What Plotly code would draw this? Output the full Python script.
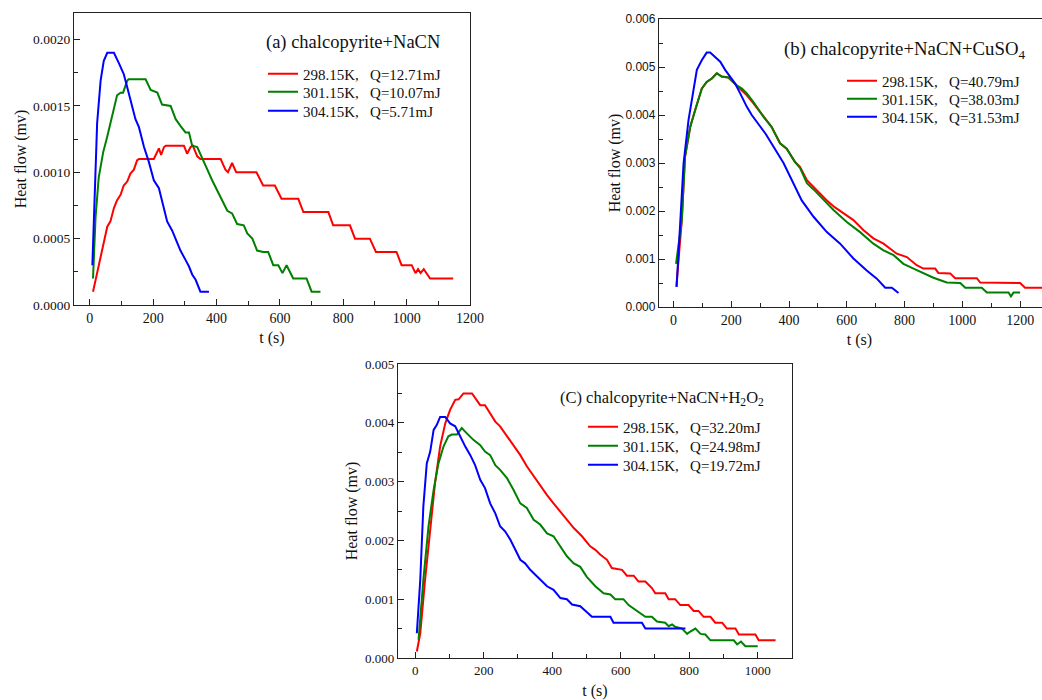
import plotly.graph_objects as go

# ---------------- data ----------------
temps = ["298.15K", "301.15K", "304.15K"]
q_a = ["12.71", "10.07", "5.71"]
q_b = ["40.79", "38.03", "31.53"]
q_c = ["32.20", "24.98", "19.72"]
colors = ["#ff0000", "#008000", "#0000ff"]

# panel (a) chalcopyrite+NaCN
a_red_t = [10, 55, 65, 76, 86, 97, 107, 118, 128, 139, 149, 155, 202, 213, 218, 225, 234, 240, 297, 307, 318, 325,
           339, 349, 413, 428, 436, 449, 462, 526, 547, 584, 605, 658, 674, 753, 768, 821, 837, 884, 903, 968, 984,
           1016, 1028, 1036, 1044, 1054, 1074, 1147]
a_red_v = [0.0001, 0.00059, 0.00063, 0.00073, 0.00079, 0.00083, 0.0009, 0.00093, 0.00099, 0.00102, 0.00109, 0.0011,
           0.0011, 0.00115, 0.00118, 0.00113, 0.00119, 0.0012, 0.0012, 0.00114, 0.00119, 0.0012, 0.00112, 0.0011,
           0.0011, 0.00102, 0.001, 0.00107, 0.001, 0.001, 0.0009, 0.0009, 0.0008, 0.0008, 0.0007, 0.0007, 0.0006,
           0.0006, 0.0005, 0.0005, 0.0004, 0.0004, 0.0003, 0.0003, 0.00024, 0.00027, 0.00024, 0.00027, 0.0002, 0.0002]
a_green_t = [10, 18, 28, 42, 55, 71, 86, 97, 105, 118, 122, 176, 192, 213, 228, 255, 271, 286, 302, 313, 323, 339,
             355, 371, 386, 402, 413, 434, 449, 465, 486, 497, 513, 528, 547, 563, 579, 595, 608, 621, 642, 684, 700,
             728]
a_green_v = [0.0002, 0.00066, 0.00096, 0.00115, 0.00127, 0.00142, 0.00158, 0.0016, 0.0016, 0.00169, 0.0017, 0.0017,
             0.00162, 0.0016, 0.00151, 0.0015, 0.0014, 0.00135, 0.0013, 0.0013, 0.0012, 0.00119, 0.0011, 0.00102,
             0.00094, 0.00086, 0.00081, 0.00071, 0.00069, 0.00061, 0.0006, 0.00054, 0.0005, 0.00041, 0.0004, 0.0004,
             0.0003, 0.0003, 0.00024, 0.0003, 0.0002, 0.0002, 0.0001, 0.0001]
a_blue_t = [8, 15, 23, 34, 44, 55, 76, 92, 107, 118, 134, 144, 155, 171, 186, 202, 218, 228, 244, 260, 271, 286, 302,
            313, 323, 334, 349, 376]
a_blue_v = [0.0003, 0.00081, 0.00137, 0.00169, 0.00184, 0.0019, 0.0019, 0.00182, 0.00174, 0.00164, 0.00149, 0.0014,
            0.00134, 0.00119, 0.00108, 0.00094, 0.00088, 0.00079, 0.00063, 0.00056, 0.00049, 0.00041, 0.00034,
            0.00029, 0.00023, 0.00019, 0.0001, 0.0001]

# panel (b) chalcopyrite+NaCN+CuSO4
b_red_t = [10, 29, 40, 58, 75, 98, 115, 133, 150, 167, 190, 219, 237, 254, 277, 312, 340, 369, 392, 421, 438, 462,
           485, 513, 531, 558, 588, 623, 658, 692, 727, 773, 808, 842, 865, 906, 917, 958, 975, 1050, 1062, 1200,
           1217, 1330]
b_red_v = [0.00042, 0.00181, 0.00313, 0.00375, 0.0041, 0.00455, 0.00469, 0.00476, 0.00487, 0.0048, 0.00478, 0.00462,
           0.00452, 0.00441, 0.00424, 0.00396, 0.00375, 0.00341, 0.0033, 0.00302, 0.00292, 0.00264, 0.0025, 0.00233,
           0.00222, 0.00208, 0.00195, 0.00181, 0.0016, 0.00143, 0.00132, 0.00111, 0.00104, 0.00087, 0.0008, 0.0008,
           0.00071, 0.0007, 0.0006, 0.0006, 0.00051, 0.0005, 0.0004, 0.0004]
b_green_t = [9, 29, 40, 58, 75, 98, 115, 133, 150, 167, 190, 219, 237, 254, 277, 312, 340, 369, 392, 421, 438, 462,
             485, 513, 554, 600, 646, 692, 727, 762, 796, 831, 865, 900, 946, 993, 1010, 1067, 1085, 1160, 1168, 1177,
             1200]
b_green_v = [0.0009, 0.00181, 0.00313, 0.00375, 0.0041, 0.00455, 0.00469, 0.00476, 0.00487, 0.0048, 0.00478, 0.00462,
             0.00455, 0.00445, 0.00427, 0.00396, 0.00375, 0.00341, 0.0033, 0.00302, 0.0029, 0.00258, 0.00245, 0.00228,
             0.00202, 0.00177, 0.00156, 0.00132, 0.00118, 0.00108, 0.0009, 0.0008, 0.0007, 0.00061, 0.00051, 0.0005,
             0.0004, 0.0004, 0.0003, 0.0003, 0.00022, 0.0003, 0.0003]
b_blue_t = [11, 23, 35, 52, 69, 81, 98, 115, 127, 144, 162, 179, 196, 213, 231, 254, 271, 320, 381, 444, 485, 531,
            577, 623, 669, 704, 733, 756, 779]
b_blue_v = [0.00042, 0.00167, 0.00299, 0.00389, 0.00452, 0.00494, 0.00514, 0.0053, 0.0053, 0.00521, 0.00511, 0.00494,
            0.0048, 0.00466, 0.00445, 0.00417, 0.004, 0.0036, 0.003, 0.00222, 0.00188, 0.00156, 0.00132, 0.00101,
            0.00076, 0.00059, 0.0004, 0.0004, 0.00029]

# panel (c) chalcopyrite+NaCN+H2O2
c_red_t = [5, 15, 29, 44, 58, 73, 88, 102, 117, 127, 141, 166, 180, 190, 204, 219, 234, 248, 268, 287, 307, 326, 346,
           365, 385, 404, 424, 443, 463, 487, 511, 526, 540, 560, 574, 604, 618, 638, 652, 672, 691, 701, 730, 740,
           759, 774, 798, 813, 827, 842, 862, 876, 896, 910, 935, 945, 993, 1003, 1052]
c_red_v = [0.00011, 0.00042, 0.00133, 0.00218, 0.00297, 0.0036, 0.00399, 0.00422, 0.00439, 0.0044, 0.0045, 0.0045,
           0.00439, 0.0043, 0.0043, 0.00416, 0.00402, 0.00394, 0.00377, 0.0036, 0.00345, 0.00326, 0.00309, 0.00292,
           0.00277, 0.00263, 0.00249, 0.00235, 0.00221, 0.00207, 0.0019, 0.00184, 0.00176, 0.00167, 0.00153, 0.0015,
           0.0014, 0.0014, 0.0013, 0.0013, 0.00119, 0.0011, 0.0011, 0.001, 0.001, 0.0009, 0.0009, 0.0008, 0.0008,
           0.0007, 0.0007, 0.0006, 0.0006, 0.0005, 0.0005, 0.0004, 0.0004, 0.0003, 0.0003]
c_green_t = [10, 24, 39, 54, 68, 83, 97, 107, 122, 136, 151, 170, 190, 204, 219, 234, 248, 268, 287, 307, 326, 346,
             365, 385, 404, 424, 443, 463, 482, 501, 526, 550, 570, 584, 608, 623, 643, 662, 672, 691, 706, 730, 740,
             750, 759, 779, 794, 803, 818, 833, 847, 862, 930, 940, 951, 964, 1000]
c_green_v = [0.00031, 0.00133, 0.00224, 0.00286, 0.00331, 0.0036, 0.00377, 0.0038, 0.0038, 0.00391, 0.00382, 0.00371,
             0.00362, 0.00351, 0.00345, 0.00328, 0.0032, 0.00306, 0.00286, 0.00263, 0.00255, 0.00235, 0.00227,
             0.00212, 0.00207, 0.0019, 0.00173, 0.00161, 0.00155, 0.00138, 0.00122, 0.0011, 0.00108, 0.001, 0.001,
             0.0009, 0.00082, 0.00074, 0.0007, 0.0007, 0.00062, 0.0006, 0.00054, 0.00057, 0.00053, 0.0005, 0.00041,
             0.00045, 0.0005, 0.00041, 0.0004, 0.0003, 0.0003, 0.00023, 0.00028, 0.0002, 0.0002]
c_blue_t = [5, 15, 24, 34, 44, 54, 63, 73, 88, 102, 117, 131, 146, 161, 175, 190, 204, 219, 234, 248, 263, 278, 292,
            307, 321, 336, 350, 365, 385, 404, 424, 443, 458, 482, 497, 516, 570, 579, 662, 672, 789]
c_blue_v = [0.00042, 0.00133, 0.00258, 0.00331, 0.00351, 0.00388, 0.00396, 0.0041, 0.0041, 0.00399, 0.00394, 0.00377,
            0.0036, 0.00345, 0.00328, 0.00303, 0.00289, 0.00263, 0.00246, 0.00224, 0.00215, 0.00201, 0.00184,
            0.00167, 0.00161, 0.0015, 0.00142, 0.00133, 0.00122, 0.00116, 0.00102, 0.001, 0.00091, 0.00088, 0.0008,
            0.0007, 0.0007, 0.0006, 0.0006, 0.0005, 0.0005]

# ---------------- figure ----------------
W, H = 1060, 700          # a little wider than the window: panel (b) runs off the right edge as in the original
SERIF = "Liberation Serif"
SANS = "Liberation Sans"
INK = "#111"

fig = go.Figure()

panels = [
    ("x", "y", [(a_red_t, a_red_v), (a_green_t, a_green_v), (a_blue_t, a_blue_v)], q_a),
    ("x2", "y2", [(b_red_t, b_red_v), (b_green_t, b_green_v), (b_blue_t, b_blue_v)], q_b),
    ("x3", "y3", [(c_red_t, c_red_v), (c_green_t, c_green_v), (c_blue_t, c_blue_v)], q_c),
]
k = 0
for xa, ya, series, qs in panels:
    for i, (t, v) in enumerate(series):
        k += 1
        lg = "legend" if k == 1 else f"legend{k}"
        name = f"{temps[i]},\u00a0\u00a0 Q={qs[i]}mJ"
        fig.add_trace(go.Scatter(x=t, y=v, mode="lines", name=name, xaxis=xa, yaxis=ya, legend=lg,
                                 line=dict(color=colors[i], width=2), hoverinfo="skip"))


def px_dom(a, b):
    return [a / W, min(b / W, 1.0)]


def py_dom(top, bottom):
    return [1 - bottom / H, 1 - top / H]


def xaxis(dom, rng, anchor, tickfont, standoff=6):
    return dict(domain=dom, range=rng, anchor=anchor, showgrid=False, zeroline=False,
                showline=True, linecolor="#222", linewidth=1.3, mirror=True,
                ticks="inside", ticklen=6, tickwidth=1, tickcolor="#222",
                tick0=0, dtick=200, tickfont=tickfont,
                minor=dict(ticks="inside", ticklen=4, dtick=100, tick0=0, tickcolor="#222", showgrid=False),
                title=dict(text="t (s)", font=dict(family=SERIF, size=16, color=INK), standoff=standoff))


def yaxis(dom, rng, anchor, dtick, fmt, tickfont, standoff):
    return dict(domain=dom, range=rng, anchor=anchor, showgrid=False, zeroline=False,
                showline=True, linecolor="#222", linewidth=1.3, mirror=True,
                ticks="inside", ticklen=6, tickwidth=1, tickcolor="#222",
                tick0=0, dtick=dtick, tickformat=fmt, tickfont=tickfont,
                minor=dict(ticks="inside", ticklen=4, dtick=dtick / 2, tick0=0, tickcolor="#222", showgrid=False),
                title=dict(text="Heat flow (mv)", font=dict(family=SERIF, size=16, color=INK), standoff=standoff))


fa = dict(family=SERIF, size=14, color=INK)
fc = dict(family=SERIF, size=13, color=INK)
leg_font = dict(family=SERIF, size=15, color=INK)

# legend anchor positions (px): line start x, row centre y
leg_pos = [(268, 74), (268, 92), (268, 111),
           (847, 81), (847, 99), (847, 117),
           (588, 427), (588, 446), (588, 465)]
legends = {}
for j, (lx, ly) in enumerate(leg_pos):
    key = "legend" if j == 0 else f"legend{j + 1}"
    legends[key] = dict(x=(lx - 5) / W, y=1 - ly / H, xanchor="left", yanchor="middle",
                        bgcolor="rgba(0,0,0,0)", borderwidth=0, font=leg_font, itemwidth=30)

fig.update_layout(
    width=W, height=H, margin=dict(l=0, r=0, t=0, b=0, autoexpand=False),
    paper_bgcolor="white", plot_bgcolor="white", showlegend=True,
    xaxis=xaxis(px_dom(74, 470), [-50, 1200], "y", fa),
    yaxis=yaxis(py_dom(13, 305), [0, 0.0022], "x", 0.0005, ".4f", dict(family=SERIF, size=13.5, color=INK), 2),
    xaxis2=xaxis(px_dom(659, 1060), [-50, 1338], "y2", fa),
    yaxis2=yaxis(py_dom(19, 307), [0, 0.006], "x2", 0.001, ".3f", dict(family=SANS, size=12, color=INK), 0),
    xaxis3=xaxis(px_dom(398, 792), [-50, 1100], "y3", fc, standoff=16),
    yaxis3=yaxis(py_dom(364, 658), [0, 0.005], "x3", 0.001, ".3f", fc, 3),
    annotations=[
        dict(text="(a) chalcopyrite+NaCN", x=442 / W, y=1 - 43 / H, xref="paper", yref="paper",
             xanchor="right", yanchor="middle", showarrow=False, font=dict(family=SERIF, size=18.5, color=INK)),
        dict(text="(b) chalcopyrite+NaCN+CuSO<sub>4</sub>", x=1028 / W, y=1 - 50 / H, xref="paper", yref="paper",
             xanchor="right", yanchor="middle", showarrow=False, font=dict(family=SERIF, size=18.8, color=INK)),
        dict(text="(C) chalcopyrite+NaCN+H<sub>2</sub>O<sub>2</sub>", x=766 / W, y=1 - 398 / H, xref="paper",
             yref="paper", xanchor="right", yanchor="middle", showarrow=False,
             font=dict(family=SERIF, size=16.5, color=INK)),
    ],
    **legends,
)

fig.write_html("out.html", config={"displayModeBar": False},
               post_script="document.body.style.margin='0';document.body.style.overflow='hidden';")
